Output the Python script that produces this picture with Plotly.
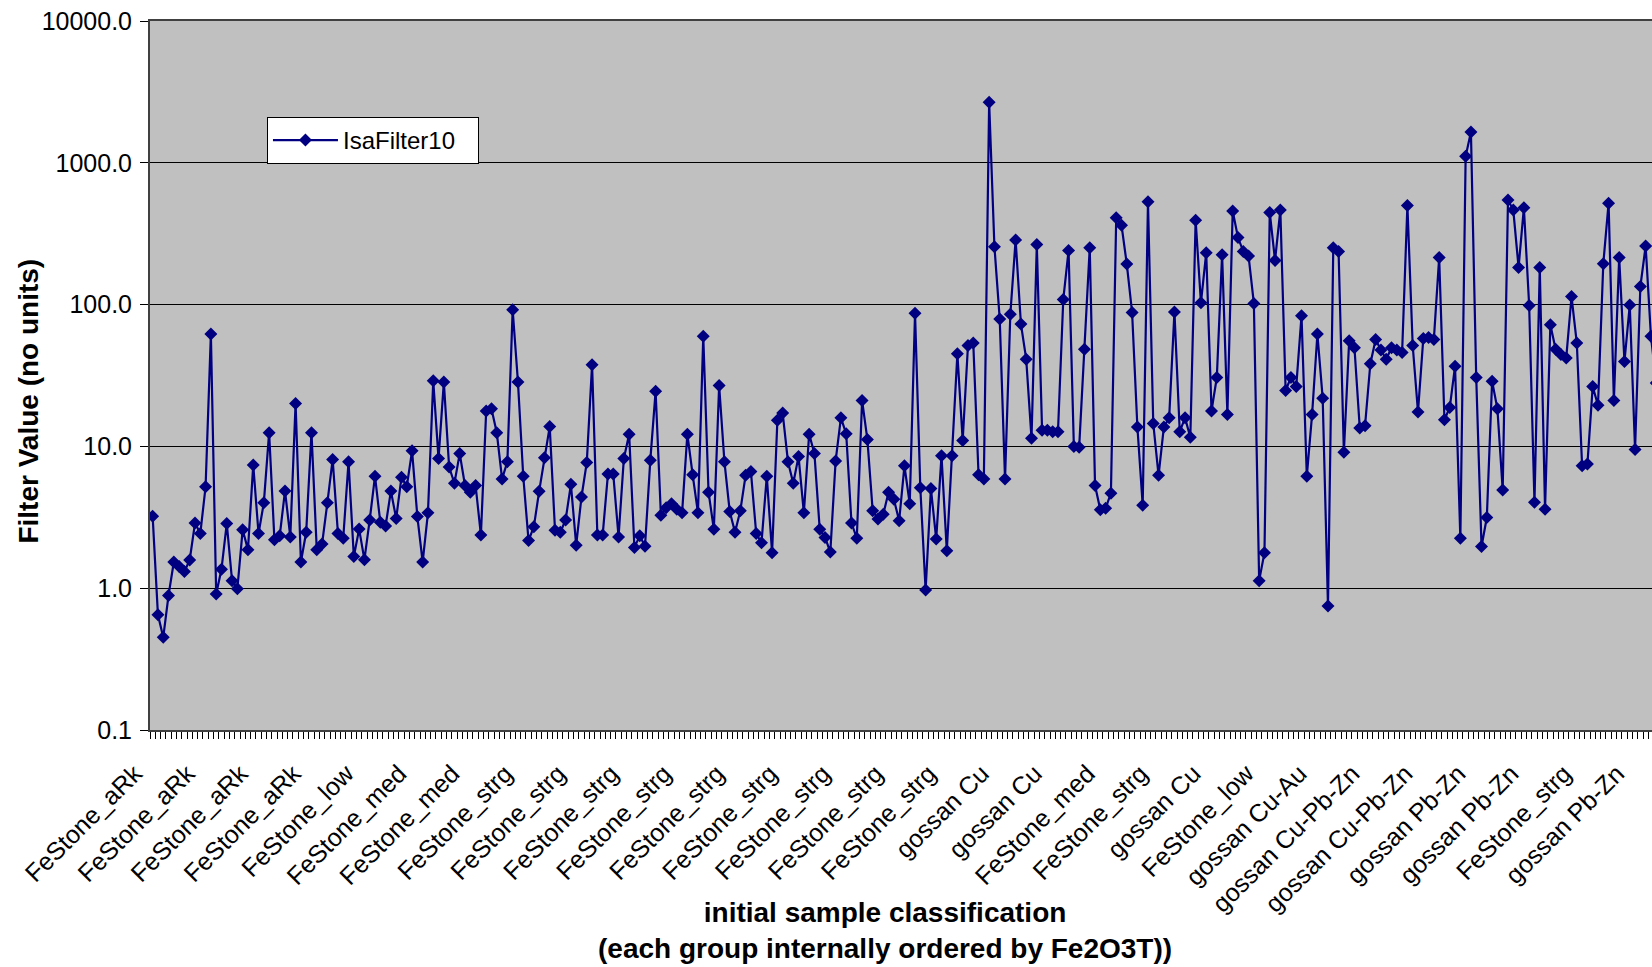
import plotly.graph_objects as go

# ---- data ----
filter_values = [
    3.22, 0.65, 0.45, 0.89, 1.53, 1.42, 1.31, 1.58, 2.88, 2.43, 5.19, 62,
    0.91, 1.36, 2.86, 1.13, 0.99, 2.58, 1.87, 7.4, 2.43, 4.0, 12.5, 2.2,
    2.34, 4.85, 2.30, 20.1, 1.53, 2.48, 12.5, 1.87, 2.05, 4.0, 8.1, 2.43,
    2.25, 7.8, 1.67, 2.61, 1.59, 3.03, 6.16, 2.92, 2.75, 4.85, 3.1, 6.07,
    5.2, 9.3, 3.2, 1.53, 3.4, 29.0, 8.2, 28.4, 7.15, 5.5, 8.9, 5.3,
    4.75, 5.3, 2.37, 17.8, 18.4, 12.5, 5.9, 7.8, 92, 28.4, 6.16, 2.17,
    2.71, 4.82, 8.3, 13.8, 2.56, 2.48, 3.03, 5.4, 2.01, 4.4, 7.7, 37.7,
    2.37, 2.37, 6.4, 6.4, 2.30, 8.2, 12.2, 1.94, 2.34, 1.98, 8.0, 24.5,
    3.27, 3.7, 3.94, 3.6, 3.4, 12.2, 6.3, 3.4, 59.8, 4.75, 2.6, 26.9,
    7.8, 3.47, 2.48, 3.52, 6.25, 6.64, 2.43, 2.09, 6.16, 1.78, 15.3, 17.2,
    7.8, 5.5, 8.5, 3.4, 12.2, 8.9, 2.6, 2.28, 1.80, 7.9, 15.9, 12.3,
    2.88, 2.25, 21.1, 11.2, 3.52, 3.08, 3.32, 4.75, 4.24, 2.99, 7.3, 3.94,
    86.9, 5.1, 0.97, 5.04, 2.22, 8.6, 1.84, 8.6, 45, 11.0, 51.5, 53.5,
    6.3, 5.9, 2673, 256, 79, 5.9, 85.5, 286, 73, 41.2, 11.4, 265,
    13.0, 13.0, 12.7, 12.7, 108.6, 241, 10.0, 9.85, 48.5, 252, 5.3, 3.57,
    3.66, 4.68, 409, 363, 193, 88, 13.7, 3.85, 531, 14.5, 6.25, 13.7,
    15.9, 88.8, 12.7, 15.9, 11.6, 394, 103, 232, 17.8, 30.6, 225, 16.8,
    457, 297, 237, 220, 102, 1.13, 1.78, 447, 205, 464, 24.8, 30.6,
    26.4, 83.6, 6.16, 16.8, 62, 21.9, 0.75, 252, 237, 9.1, 55.5, 49.6,
    13.5, 14.0, 38.3, 56.8, 47.8, 41.2, 49.6, 47.8, 46, 500, 51.5, 17.5,
    57.6, 58.5, 56.8, 215, 15.4, 18.8, 36.8, 2.25, 1110, 1648, 30.6, 1.97,
    3.15, 28.8, 18.4, 4.93, 547, 464, 183, 482, 98.6, 4.03, 183, 3.6,
    72, 48.5, 44.4, 42.1, 114, 53.5, 7.3, 7.5, 26.4, 19.5, 194, 519,
    21.1, 215, 39.7, 99.3, 9.5, 134, 259, 59.8, 28,
]
sample_index = list(range(len(filter_values)))

# every 10th sample carries a visible category label
tick_positions = list(range(0, 290, 10))
tick_labels = [
    "FeStone_aRk", "FeStone_aRk", "FeStone_aRk", "FeStone_aRk",
    "FeStone_low", "FeStone_med", "FeStone_med",
    "FeStone_strg", "FeStone_strg", "FeStone_strg", "FeStone_strg",
    "FeStone_strg", "FeStone_strg", "FeStone_strg", "FeStone_strg",
    "FeStone_strg",
    "gossan Cu", "gossan Cu", "FeStone_med", "FeStone_strg", "gossan Cu",
    "FeStone_low", "gossan Cu-Au", "gossan Cu-Pb-Zn", "gossan Cu-Pb-Zn",
    "gossan Pb-Zn", "gossan Pb-Zn", "FeStone_strg", "gossan Pb-Zn",
]
y_tick_values = [0.1, 1, 10, 100, 1000, 10000]
y_tick_text = ["0.1", "1.0", "10.0", "100.0", "1000.0", "10000.0"]
series_name = "IsaFilter10"

# ---- layout geometry ----
W, H = 1652, 967
L, R, T, B = 149.5, 0, 21, 237
plot_w = W - L - R
plot_h = H - T - B
FONT = "Liberation Sans, Arial, sans-serif"
NAVY = "#000080"


def px_x(p):
    return (p - L) / plot_w


def px_y(p):
    return (H - B - p) / plot_h


fig = go.Figure()
fig.add_trace(go.Scatter(
    x=sample_index, y=filter_values, name=series_name,
    mode="lines+markers",
    line=dict(color=NAVY, width=2.2),
    marker=dict(symbol="diamond", size=10, color=NAVY),
    showlegend=True,
))

fig.update_layout(
    width=W, height=H,
    margin=dict(l=L, r=R, t=T, b=B, pad=0),
    paper_bgcolor="white",
    plot_bgcolor="#C0C0C0",
    font=dict(family=FONT, color="black", size=25),
    showlegend=True,
    legend=dict(
        orientation="h",
        x=px_x(266.5), y=px_y(117), xanchor="left", yanchor="top",
        bgcolor="white", bordercolor="black", borderwidth=1,
        font=dict(family=FONT, size=24, color="black"),
        itemwidth=65, entrywidth=130, entrywidthmode="pixels",
    ),
    xaxis=dict(
        range=[-0.5, 283.2],
        tickmode="array", tickvals=tick_positions, ticktext=tick_labels,
        tickangle=-45, ticks="",
        tickfont=dict(family=FONT, size=25, color="black"),
        ticklabelstandoff=17, ticklabelshift=-18,
        showgrid=False, zeroline=False,
        showline=True, linecolor="#404040", linewidth=2, mirror=True,
        minor=dict(ticks="outside", tickmode="linear", tick0=-0.5, dtick=1,
                   ticklen=7, tickcolor="black", tickwidth=1, showgrid=False),
    ),
    yaxis=dict(
        type="log", range=[-1, 4],
        tickmode="array", tickvals=y_tick_values, ticktext=y_tick_text,
        ticks="outside", ticklen=8, tickcolor="black", tickwidth=1,
        tickfont=dict(family=FONT, size=25, color="black"),
        ticklabelstandoff=3,
        showgrid=True, gridcolor="black", gridwidth=1,
        zeroline=False,
        showline=True, linecolor="#404040", linewidth=2,
    ),
    annotations=[
        dict(text="<b>Filter Value (no units)</b>", textangle=-90,
             xref="paper", yref="paper", x=px_x(27), y=px_y(401),
             xanchor="center", yanchor="middle", showarrow=False,
             font=dict(family=FONT, size=28, color="black")),
        dict(text="<b>initial sample classification<br>(each group internally ordered by Fe2O3T))</b>",
             xref="paper", yref="paper", x=px_x(885), y=px_y(930.5),
             xanchor="center", yanchor="middle", showarrow=False,
             font=dict(family=FONT, size=28, color="black")),
    ],
)

fig.write_html("out.html")
